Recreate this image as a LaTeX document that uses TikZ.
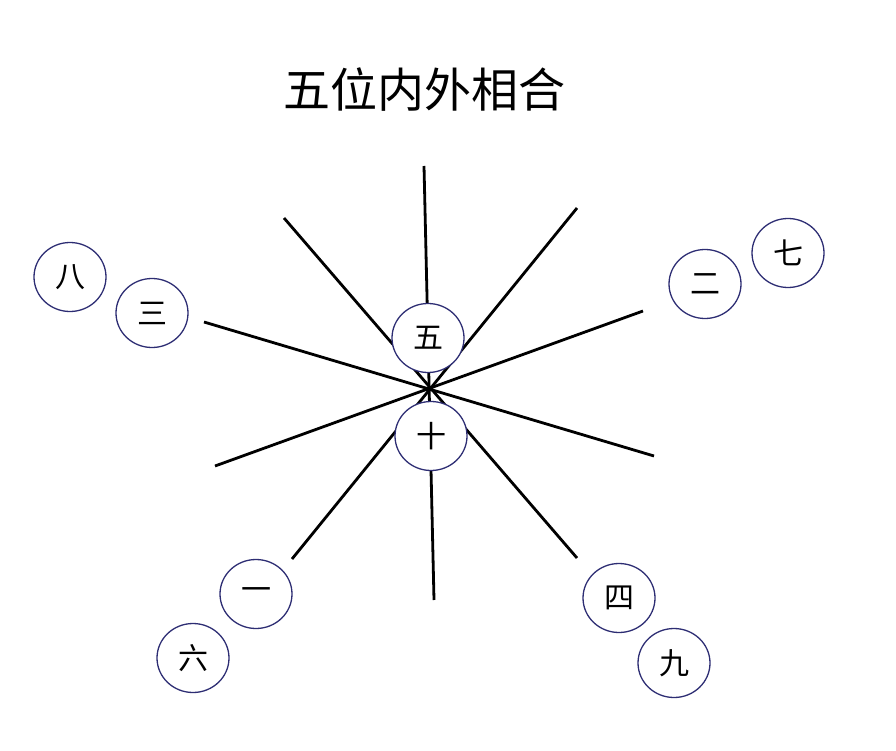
\documentclass[tikz,border=0pt]{standalone}
\usepackage{fontspec}
\newfontfamily\cjk{Noto Sans CJK SC}
\usetikzlibrary{shapes.geometric}
\definecolor{ringcol}{RGB}{45,45,115}
\tikzset{
  ring/.style={ellipse, draw=ringcol, fill=white, line width=1.3pt,
    minimum width=72pt, minimum height=69pt, inner sep=0pt,
    font=\cjk\fontsize{30}{30}\selectfont},
  ray/.style={line width=2.8pt, black}
}
\begin{document}
\begin{tikzpicture}[x=1pt,y=-1pt]
\useasboundingbox (0,0) rectangle (896,751);
\node[font=\cjk\fontsize{47}{47}\selectfont] (title) at (424,90) {五位内外相合};
% ray end points
\coordinate (v1) at (424,166); \coordinate (v2) at (434,600);
\coordinate (a1) at (284,218); \coordinate (a2) at (577,558);
\coordinate (b1) at (577,208); \coordinate (b2) at (292,559);
\coordinate (c1) at (204,322); \coordinate (c2) at (654,456);
\coordinate (d1) at (643,311); \coordinate (d2) at (215,466);
\draw[ray] (v1) -- (v2);
\draw[ray] (a1) -- (a2);
\draw[ray] (b1) -- (b2);
\draw[ray] (c1) -- (c2);
\draw[ray] (d1) -- (d2);
% circles
\node[ring] (wu)   at (428,338) {五};
\node[ring] (shi)  at (431,436) {十};
\node[ring] (ba)   at (70,277)  {八};
\node[ring] (san)  at (152,313) {三};
\node[ring] (er)   at (705,284) {二};
\node[ring] (qi)   at (788,253) {七};
\node[ring] (yi)   at (256,594) {一};
\node[ring] (liu)  at (193,658) {六};
\node[ring] (si)   at (619,598) {四};
\node[ring] (jiu)  at (674,663) {九};
\end{tikzpicture}
\end{document}
